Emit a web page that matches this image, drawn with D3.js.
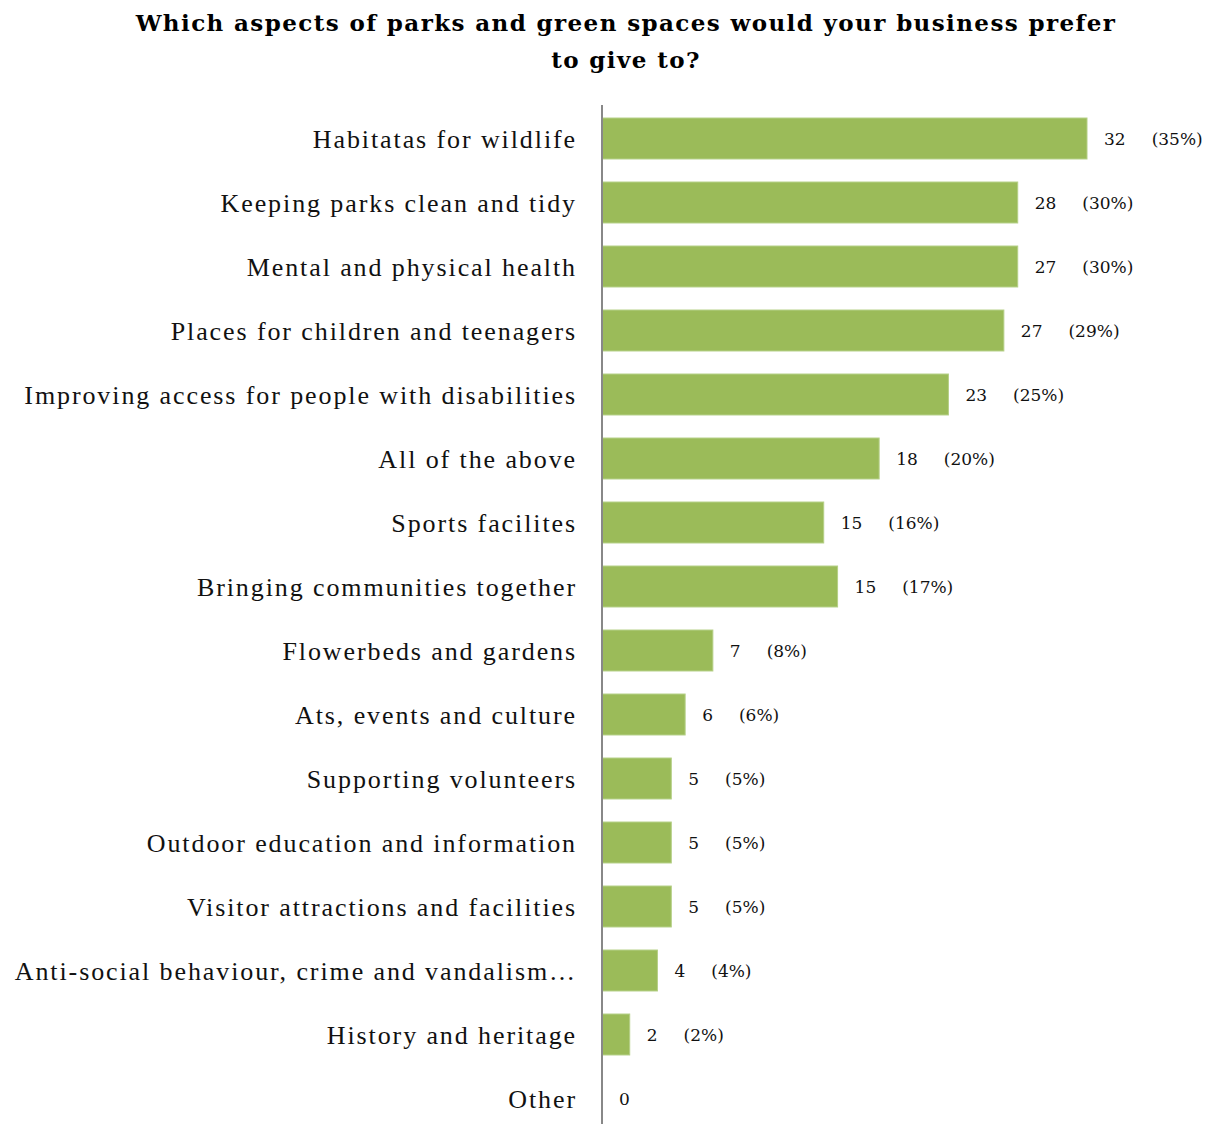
<!DOCTYPE html>
<html><head><meta charset="utf-8">
<script src="https://cdn.jsdelivr.net/npm/d3@7"></script>
<style>body{margin:0;background:#fff}</style>
</head><body>
<svg id="chart" width="1213" height="1124"></svg>
<script>
const titleLines = ["Which aspects of parks and green spaces would your business prefer", "to give to?"];
const categories = [
  "Habitatas for wildlife",
  "Keeping parks clean and tidy",
  "Mental and physical health",
  "Places for children and teenagers",
  "Improving access for people with disabilities",
  "All of the above",
  "Sports facilites",
  "Bringing communities together",
  "Flowerbeds and gardens",
  "Ats, events and culture",
  "Supporting volunteers",
  "Outdoor education and information",
  "Visitor attractions and facilities",
  "Anti-social behaviour, crime and vandalism…",
  "History and heritage",
  "Other"
];
const counts = [32, 28, 27, 27, 23, 18, 15, 15, 7, 6, 5, 5, 5, 4, 2, 0];
const percents = [35, 30, 30, 29, 25, 20, 16, 17, 8, 6, 5, 5, 5, 4, 2, 0];

const svg = d3.select("#chart");
const x = d3.scaleLinear().domain([0, 35]).range([602, 1087]);
const y = d3.scaleBand().domain(categories).range([106.5, 1130.5]).paddingInner(0.36).paddingOuter(0.18);

svg.append("g").selectAll("text").data(titleLines).join("text")
  .attr("x", 626).attr("y", (d, i) => 31 + i * 37)
  .attr("text-anchor", "middle")
  .attr("font-family", "DejaVu Serif, serif")
  .attr("font-weight", "bold").attr("font-size", 23)
  .attr("letter-spacing", 1.4)
  .attr("fill", "#000")
  .text(d => d);

const data = categories.map((c, i) => ({c, n: counts[i], p: percents[i]}));

svg.append("g").selectAll("rect").data(data).join("rect")
  .attr("x", x(0)).attr("y", d => y(d.c))
  .attr("width", d => x(d.p) - x(0)).attr("height", y.bandwidth())
  .attr("fill", "#9BBB59").attr("stroke", "#B5CF86").attr("stroke-width", 1);

svg.append("g").selectAll("text").data(data).join("text")
  .attr("x", 577).attr("y", d => y(d.c) + y.bandwidth() / 2)
  .attr("dy", "0.35em").attr("text-anchor", "end")
  .attr("font-family", "Liberation Serif, serif").attr("font-size", 26)
  .attr("letter-spacing", 1.9)
  .attr("fill", "#111")
  .text(d => d.c);

const vl = svg.append("g").selectAll("text").data(data).join("text")
  .attr("x", d => x(d.p) + 17).attr("y", d => y(d.c) + y.bandwidth() / 2)
  .attr("dy", "0.36em")
  .attr("font-family", "DejaVu Serif, serif").attr("font-size", 17)
  .attr("fill", "#111");
vl.append("tspan").text(d => d.n);
vl.filter(d => d.n > 0).append("tspan").attr("dx", 26).text(d => `(${d.p}%)`);

svg.append("line").attr("x1", 602).attr("x2", 602).attr("y1", 105).attr("y2", 1124)
  .attr("stroke", "#888").attr("stroke-width", 2);
</script>
</body></html>
